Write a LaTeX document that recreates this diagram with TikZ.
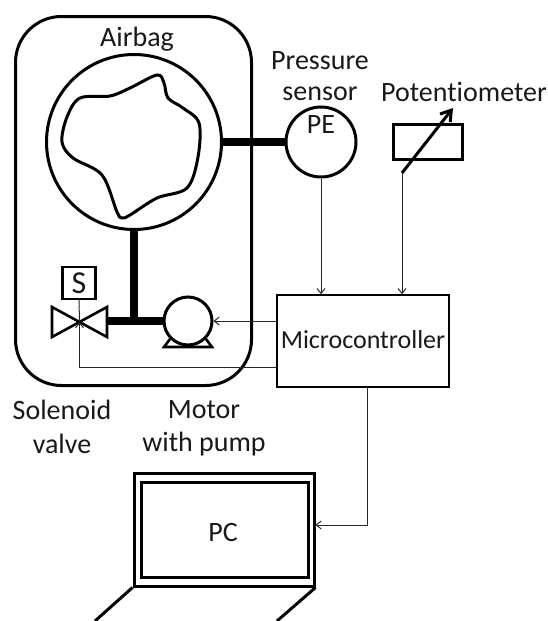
\documentclass[tikz,border=0pt]{standalone}
\usepackage{fontspec}
\setmainfont[Ligatures=NoCommon,Contextuals=NoAlternate]{Carlito}
\usepackage{tikz}
\usetikzlibrary{arrows.meta, positioning}

\begin{document}
\begin{tikzpicture}[
    x=1pt, y=-1pt,
    part/.style={draw=black, line width=3pt, inner sep=0pt},
    round part/.style={part, circle},
    box part/.style={part, rectangle},
    caption/.style={font=\fontsize{28}{28}\selectfont, inner sep=0pt, text=black!90},
    pipe/.style={line width=8pt},
    wire/.style={line width=1pt, black!85, -{Straight Barb[length=5pt, width=8pt]}},
    sig/.style={line width=1pt, black!85}
  ]
  \useasboundingbox (0,0) rectangle (548,621);

  % airbag housing and chamber
  \node[box part, rounded corners=46pt, minimum width=236pt, minimum height=369pt] (housing) at (133.5,201) {};
  \node[round part, minimum size=175pt] (chamber) at (134,142) {};
  \draw[line width=3pt] plot[smooth cycle, tension=0.55] coordinates {
    (157,75) (164,83) (168,98) (183,108) (199,123) (198,157) (187,188) (157,198)
    (130,215) (122,218) (117,212) (102,175) (73,158) (62,142) (67,117) (80,98) (110,96) (130,88)};

  % pressure sensor and potentiometer
  \node[round part, minimum size=70pt] (sensor) at (321,142) {};
  \node[box part, minimum width=69pt, minimum height=35pt] (pot) at (427.5,141.5) {};
  \coordinate (wiper) at (402,173);
  \coordinate (wipertip) at (453,108);
  \draw[line width=3pt, -{Straight Barb[length=10pt, width=13pt, line width=3pt]}] (wiper) -- (wipertip);

  % valve and pump
  \coordinate (valve) at (79.5,322);
  \draw[line width=2.6pt, line join=miter] (valve) -- (52,307) -- (52,337) -- cycle;
  \draw[line width=2.6pt, line join=miter] (valve) -- (107,307) -- (107,337) -- cycle;
  \coordinate (valveport) at (107,321);
  \node[box part, line width=2.4pt, minimum width=33pt, minimum height=32pt] (coil) at (79,283) {};
  \node[round part, fill=white, minimum size=48pt] (pump) at (188,321) {};
  \draw[line width=2.6pt, line join=miter] (170,339) -- (164,347) -- (212,347) -- (206,339);

  % controller and laptop
  \node[draw=black, line width=1.4pt, minimum width=172pt, minimum height=92pt, inner sep=0pt] (mcu) at (363,341) {};
  \node[box part, minimum width=180pt, minimum height=113pt] (lid) at (224,529.5) {};
  \node[box part, minimum width=167pt, minimum height=95pt] (screen) at (224.5,529.5) {};
  \coordinate (footl) at (95,621);
  \coordinate (footr) at (277,621);
  \coordinate (pcturn) at (367,525);
  \draw[line width=3pt] (lid.south west) -- (footl);
  \draw[line width=3pt] (lid.south east) -- (footr);

  % pipes
  \draw[pipe] (chamber.east) -- (sensor.west);
  \draw[pipe] (chamber.south) -- (chamber.south |- pump.west);
  \draw[pipe] (valveport) -- (pump.west);

  % signals
  \draw[wire] (sensor.south) -- (sensor.south |- mcu.north);
  \draw[wire] (wiper) -- (wiper |- mcu.north);
  \draw[wire] (mcu.west |- pump.east) -- (pump.east);
  \draw[wire] (mcu.west |- 0,367) -| (valve);
  \draw[sig] (coil.south) -- (valve);
  \draw[wire] (pcturn |- mcu.south) -- (pcturn) -- (lid.east |- pcturn);

  % labels
  \node[caption] (airbaglabel) at (137,39) {Airbag};
  \node[caption] (pressurelabel) at (320,61) {Pressure};
  \node[caption] (sensorlabel) at (320,94) {sensor};
  \node[caption] (pelabel) at (321,125) {PE};
  \node[caption] (potlabel) at (464,92) {Potentiometer};
  \node[caption, font=\fontsize{26}{26}\selectfont] (mculabel) at (363,340) {Microcontroller};
  \node[caption, font=\fontsize{32}{32}\selectfont] (coillabel) at (79,283) {S};
  \node[caption] (solenoidlabel) at (62,410) {Solenoid};
  \node[caption] (valvelabel) at (62,444) {valve};
  \node[caption] (motorlabel) at (204,410) {Motor};
  \node[caption] (pumplabel) at (204,444) {with pump};
  \node[caption] (pclabel) at (223,533) {PC};
\end{tikzpicture}
\end{document}
